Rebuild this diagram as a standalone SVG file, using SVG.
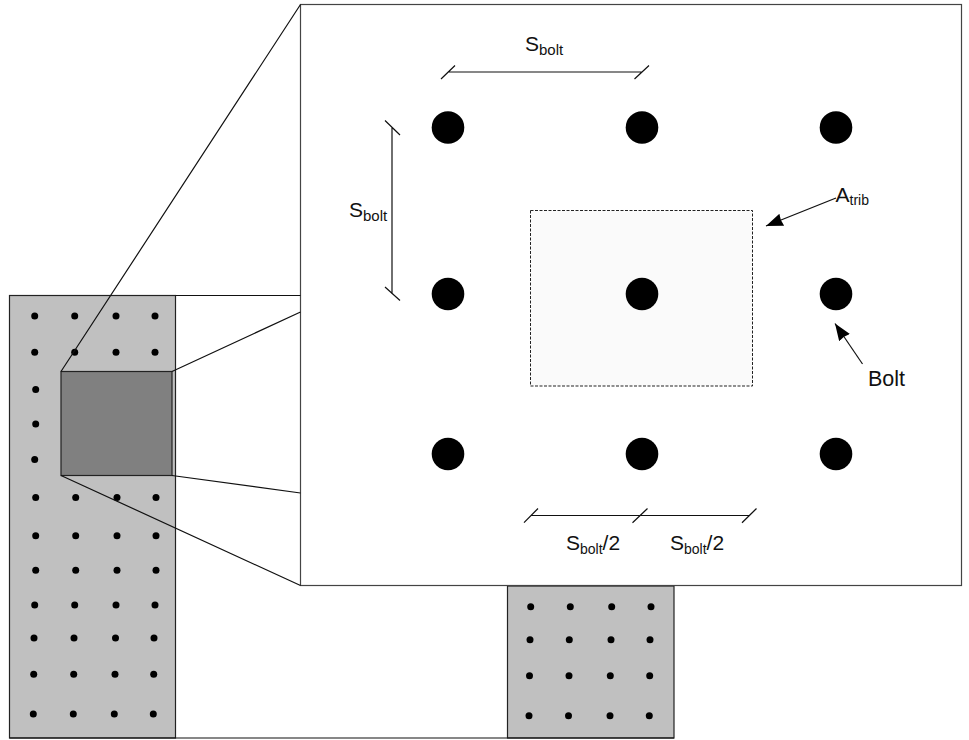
<svg xmlns="http://www.w3.org/2000/svg" width="969" height="740" viewBox="0 0 969 740">
<style>
text{font-family:"Liberation Sans",Arial,sans-serif;font-size:21px;fill:#111}
.sub{font-size:15px}
.sub2{font-size:14px}
.l{stroke:#111;stroke-width:1.200;fill:none}
.p{fill:#c0c0c0;stroke:#222;stroke-width:1.200}
.d{fill:#000}
.b{fill:#000}
</style>
<defs>
<marker id="ah" markerUnits="userSpaceOnUse" markerWidth="18" markerHeight="14" refX="17" refY="6.500" orient="auto"><path d="M0 0L17 6.500L0 13L1 6.500Z" fill="#000"/></marker>
<circle id="s" r="3.500"/>
<circle id="big" r="16.300"/>
</defs>
<rect width="969" height="740" fill="#fff"/>
<g id="left-panel">
<rect class="p" x="9.500" y="295.500" width="166" height="442.500"/>
<g class="d">
<use href="#s" x="34.700" y="316"/><use href="#s" x="74.700" y="316"/><use href="#s" x="116" y="316"/><use href="#s" x="155" y="316"/>
<use href="#s" x="34.700" y="352.300"/><use href="#s" x="74.700" y="352.300"/><use href="#s" x="116" y="352.300"/><use href="#s" x="155" y="352.300"/>
<use href="#s" x="35.700" y="389.500"/><use href="#s" x="35.700" y="424"/><use href="#s" x="34.700" y="459.500"/>
<use href="#s" x="35.700" y="497.500"/><use href="#s" x="75.700" y="497.500"/><use href="#s" x="117" y="497.500"/><use href="#s" x="156" y="497.500"/>
<use href="#s" x="35.700" y="535.700"/><use href="#s" x="75.700" y="535.700"/><use href="#s" x="117" y="535.700"/><use href="#s" x="156" y="535.700"/>
<use href="#s" x="35.700" y="570.300"/><use href="#s" x="75.700" y="570.300"/><use href="#s" x="117" y="570.300"/><use href="#s" x="156" y="570.300"/>
<use href="#s" x="34.700" y="605"/><use href="#s" x="74.700" y="605"/><use href="#s" x="116" y="605"/><use href="#s" x="155" y="605"/>
<use href="#s" x="34" y="638"/><use href="#s" x="74" y="638"/><use href="#s" x="115.500" y="638"/><use href="#s" x="154" y="638"/>
<use href="#s" x="33.700" y="674.300"/><use href="#s" x="73.700" y="674.300"/><use href="#s" x="115" y="674.300"/><use href="#s" x="153.700" y="674.300"/>
<use href="#s" x="33.300" y="714"/><use href="#s" x="73.300" y="714"/><use href="#s" x="114.300" y="714"/><use href="#s" x="153.300" y="714"/>
</g>
</g>
<g id="bottom-panel">
<rect class="p" x="507.500" y="586" width="166.500" height="152"/>
<g class="d">
<use href="#s" x="530.700" y="606.700"/><use href="#s" x="570.300" y="606.700"/><use href="#s" x="611.700" y="606.700"/><use href="#s" x="651" y="606.700"/>
<use href="#s" x="530" y="639.700"/><use href="#s" x="569.300" y="639.700"/><use href="#s" x="611" y="639.700"/><use href="#s" x="650" y="639.700"/>
<use href="#s" x="529.500" y="675.700"/><use href="#s" x="569" y="675.700"/><use href="#s" x="610.300" y="675.700"/><use href="#s" x="649.700" y="675.700"/>
<use href="#s" x="529" y="715.700"/><use href="#s" x="568.500" y="715.700"/><use href="#s" x="610" y="715.700"/><use href="#s" x="649.300" y="715.700"/>
</g>
</g>
<g id="zoom-source">
<rect x="61" y="371.500" width="111" height="104" fill="#808080" stroke="#222" stroke-width="1.200"/>
</g>
<g id="detail-panel">
<rect x="300.500" y="4.500" width="661" height="581" fill="#fff" stroke="#444" stroke-width="1.200"/>
<rect x="530.500" y="210.500" width="222" height="175.500" fill="#fafafa" stroke="#222" stroke-width="1" stroke-dasharray="3 1.500"/>
<g class="b">
<use href="#big" x="448" y="127.500"/><use href="#big" x="642" y="127.500"/><use href="#big" x="836" y="127.500"/>
<use href="#big" x="448" y="294"/><use href="#big" x="642" y="294"/><use href="#big" x="836" y="294"/>
<use href="#big" x="448" y="454"/><use href="#big" x="642" y="454"/><use href="#big" x="836" y="454"/>
</g>
</g>
<g id="connectors" class="l">
<path d="M175.500 295.500H300.500M9.500 738H674"/>
<path d="M61 371.500L300.500 4.500M172 371.500L300.500 312M172 475.500L300.500 493M61 475.500L300.500 585.500"/>
<path d="M448 72H642M441 79L455 65.500M634.500 79L649 65.500"/>
<path d="M392 127.500V294M385 120.500L400 135M385 287L400 300.500"/>
<path d="M531 515.500H750M524 522.700L538 508.500M632.500 522.700L647.500 508.500M742 522.700L756.500 508.500"/>
<path d="M836 198L766 226" marker-end="url(#ah)"/>
<path d="M862.500 364L835 323.500" marker-end="url(#ah)"/>
</g>
<g id="labels">
<text x="525" y="51">S<tspan class="sub" dy="3.500">bolt</tspan></text>
<text x="349" y="217">S<tspan class="sub" dy="3.500">bolt</tspan></text>
<text x="566" y="550">S<tspan class="sub2" dy="3.500">bolt</tspan><tspan dy="-3.500">/2</tspan></text>
<text x="670" y="550">S<tspan class="sub2" dy="3.500">bolt</tspan><tspan dy="-3.500">/2</tspan></text>
<text x="835.500" y="201.500">A<tspan class="sub2" dy="3">trib</tspan></text>
<text x="868" y="386" style="font-size:21.500px">Bolt</text>
</g>
</svg>
